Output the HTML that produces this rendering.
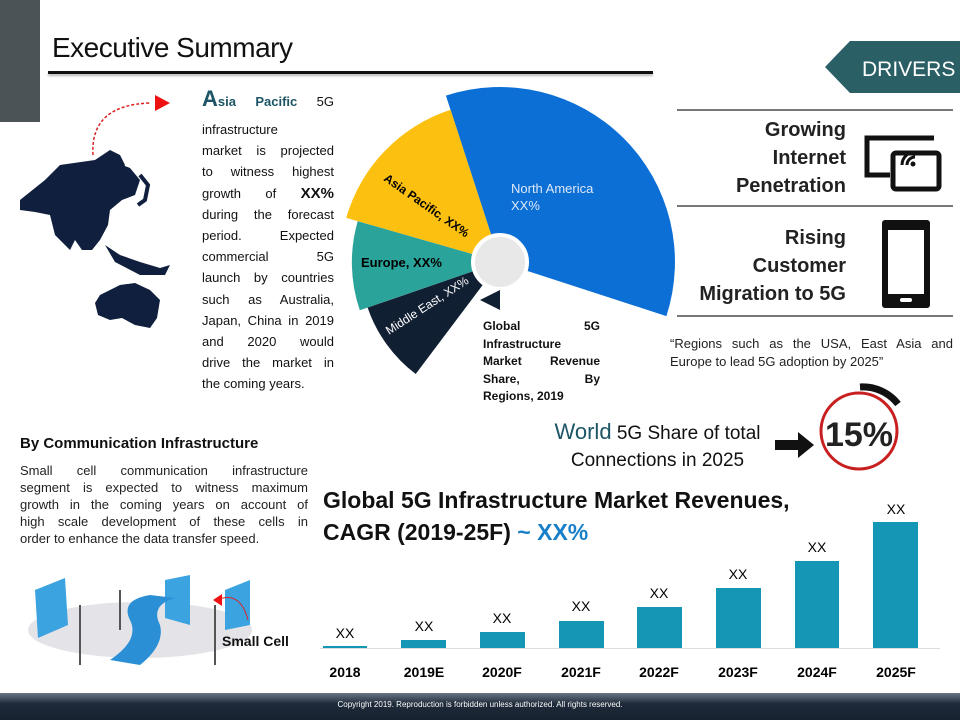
<!DOCTYPE html>
<html><head><meta charset="utf-8"><style>
*{margin:0;padding:0;box-sizing:border-box}
body{width:960px;height:720px;position:relative;overflow:hidden;background:#fff;font-family:"Liberation Sans Narrow","Liberation Sans",sans-serif;color:#111}
.a{position:absolute}
.j{text-align:justify;text-align-last:justify}
</style></head><body>
<div class="a" style="left:0;top:0;width:40px;height:122px;background:#4a5356"></div>
<div class="a" style="left:52px;top:32px;font-size:28px;font-family:'Liberation Sans',sans-serif;letter-spacing:-0.5px">Executive Summary</div>
<div class="a" style="left:48px;top:71px;width:605px;height:3px;background:#111;box-shadow:0 2px 2px #bbb"></div>

<svg class="a" style="left:0;top:0" width="960" height="720">
 <!-- map -->
 <path d="M20 200 L45 180 L60 165 L95 160 L110 150 L120 155 L125 165 L118 180 L128 190 L122 200 L110 210 L108 225 L100 240 L92 250 L82 250 L75 240 L70 250 L65 245 L55 235 L50 215 L35 212 L20 210Z" fill="#0f1f3d"/>
 <path d="M110 160 L130 168 L140 180 L135 195 L122 200Z" fill="#0f1f3d"/>
 <path d="M105 245 L120 255 L140 262 L160 268 L170 265 L165 275 L140 275 L115 262Z" fill="#0f1f3d"/>
 <path d="M100 295 L120 285 L135 283 L150 290 L160 300 L157 318 L150 328 L135 325 L122 318 L110 320 L98 315 L95 303Z" fill="#0f1f3d"/>
 <path d="M140 175 L148 185 L145 200 L138 205" stroke="#0f1f3d" stroke-width="4" fill="none"/>
 <path d="M93 155 Q90 105 150 103" stroke="#d22" stroke-width="1.5" stroke-dasharray="3,2" fill="none"/>
 <polygon points="155,95 170,103 155,111" fill="#e11"/>
 <!-- pie -->
 <g transform="translate(500,262)">
  <path d="M0 0 L-54.1 -166.4 A175 175 0 0 1 166.4 54.1Z" fill="#0b6fd6"/>
  <path d="M0 0 L-153.8 -44.1 A160 160 0 0 1 -49.4 -152.2Z" fill="#fcc010"/>
  <path d="M0 0 L-140.2 48.2 A148 148 0 0 1 -142.3 -40.8Z" fill="#2aa39a"/>
  <path d="M0 0 L-84.3 112 A140 140 0 0 1 -132.4 45.6Z" fill="#111f33"/>
  <circle r="27" fill="#e8e8e8" stroke="#fff" stroke-width="4"/>
  <polygon points="0,28 0,48 -20,38" fill="#111f33"/>
 </g>
 <text x="511" y="193" fill="#dfe9f7" font-size="13" font-family="Liberation Sans Narrow,Liberation Sans,sans-serif">North America</text>
 <text x="511" y="210" fill="#dfe9f7" font-size="13" font-family="Liberation Sans Narrow,Liberation Sans,sans-serif">XX%</text>
 <text transform="translate(383,180) rotate(35)" font-size="12" font-weight="bold" font-family="Liberation Sans Narrow,Liberation Sans,sans-serif">Asia Pacific, XX%</text>
 <text x="361" y="267" font-size="13" font-weight="bold" font-family="Liberation Sans Narrow,Liberation Sans,sans-serif">Europe, XX%</text>
 <text transform="translate(389,335) rotate(-33)" fill="#fff" font-size="12" font-family="Liberation Sans Narrow,Liberation Sans,sans-serif">Middle East, XX%</text>
 <!-- drivers -->
 <polygon points="825,67 850,41 960,41 960,93 850,93" fill="#2a5f66"/>
 <text x="862" y="76" fill="#fff" font-size="21" font-family="Liberation Sans,sans-serif">DRIVERS</text>
 <rect x="677" y="109" width="276" height="2" fill="#777"/>
 <rect x="677" y="205" width="276" height="2" fill="#777"/>
 <rect x="677" y="315" width="276" height="2" fill="#777"/>
 <path d="M934 138 L867 138 L867 175 L890 175" stroke="#111" stroke-width="5" fill="none"/>
 <rect x="893" y="153" width="46" height="36" rx="3" stroke="#111" stroke-width="5" fill="#fff"/>
 <path d="M907 165 a8 8 0 0 1 8 -8 M902 165 a13 13 0 0 1 13 -13" stroke="#111" stroke-width="3" fill="none"/>
 <circle cx="913" cy="164" r="2.5" fill="#111"/>
 <rect x="882" y="220" width="48" height="88" rx="3" fill="#111"/>
 <rect x="888" y="230" width="36" height="64" fill="#fff"/>
 <rect x="900" y="298" width="12" height="4" rx="2" fill="#fff"/>
 <!-- 15% -->
 <circle cx="859" cy="431" r="38" stroke="#c82020" stroke-width="3" fill="none"/>
 <path d="M860 387 A45 45 0 0 1 898 404" stroke="#111" stroke-width="7" fill="none"/>
 <text x="859" y="446" text-anchor="middle" font-size="34" font-weight="bold" font-family="Liberation Sans Narrow,Liberation Sans,sans-serif" fill="#222">15%</text>
 <rect x="775" y="440" width="25" height="10" fill="#111"/>
 <polygon points="798,432 814,445 798,458" fill="#111"/>
 <!-- bars -->
 <rect x="320" y="648" width="620" height="1" fill="#ddd"/>
 <g fill="#1497b5">
  <rect x="323" y="646" width="44" height="2"/>
  <rect x="401" y="640" width="45" height="8"/>
  <rect x="480" y="632" width="45" height="16"/>
  <rect x="559" y="621" width="45" height="27"/>
  <rect x="637" y="607" width="45" height="41"/>
  <rect x="716" y="588" width="45" height="60"/>
  <rect x="795" y="561" width="44" height="87"/>
  <rect x="873" y="522" width="45" height="126"/>
 </g>
 <g font-size="14" text-anchor="middle" font-family="Liberation Sans Narrow,Liberation Sans,sans-serif">
  <text x="345" y="638">XX</text><text x="424" y="631">XX</text><text x="502" y="623">XX</text><text x="581" y="611">XX</text><text x="659" y="598">XX</text><text x="738" y="579">XX</text><text x="817" y="552">XX</text><text x="896" y="514">XX</text>
 </g>
 <g font-size="14" font-weight="bold" text-anchor="middle" font-family="Liberation Sans Narrow,Liberation Sans,sans-serif">
  <text x="345" y="677">2018</text><text x="424" y="677">2019E</text><text x="502" y="677">2020F</text><text x="581" y="677">2021F</text><text x="659" y="677">2022F</text><text x="738" y="677">2023F</text><text x="817" y="677">2024F</text><text x="896" y="677">2025F</text>
 </g>
 <!-- small cell illustration -->
 <ellipse cx="140" cy="630" rx="112" ry="28" fill="#e4e4e8"/>
 <path d="M35 590 L65 578 L68 625 L38 638Z" fill="#3aa3e0"/>
 <path d="M165 580 L190 575 L190 625 L165 618Z" fill="#3aa3e0"/>
 <path d="M225 590 L250 580 L250 625 L225 630Z" fill="#3aa3e0"/>
 <path d="M110 660 Q140 640 130 620 Q120 600 150 595 L175 598 Q150 605 160 625 Q165 645 140 665Z" fill="#2b8fd6"/>
 <line x1="120" y1="590" x2="120" y2="630" stroke="#555" stroke-width="2"/>
 <line x1="80" y1="605" x2="80" y2="665" stroke="#555" stroke-width="2"/>
 <line x1="215" y1="605" x2="215" y2="665" stroke="#555" stroke-width="2"/>
 <path d="M217 600 Q240 590 248 620" stroke="#d22" fill="none"/>
 <polygon points="213,600 222,594 222,606" fill="#e11"/>
</svg>

<div class="a j" style="left:202px;top:88px;width:132px;font-size:13px;line-height:21px">
<span style="font-size:22px;font-weight:bold;color:#1d5566">A</span><span style="font-weight:bold;color:#1d5566">sia Pacific</span> 5G</div>
<div class="a" style="left:202px;top:119px;width:132px;font-size:13px;line-height:21.2px;text-align:justify">infrastructure<br>
<span style="display:block;text-align:justify;text-align-last:justify">market is projected</span>
<span style="display:block;text-align-last:justify">to witness highest</span>
<span style="display:block;text-align-last:justify">growth of <b style="font-size:15px">XX%</b></span>
<span style="display:block;text-align-last:justify">during the forecast</span>
<span style="display:block;text-align-last:justify">period. Expected</span>
<span style="display:block;text-align-last:justify">commercial 5G</span>
<span style="display:block;text-align-last:justify">launch by countries</span>
<span style="display:block;text-align-last:justify">such as Australia,</span>
<span style="display:block;text-align-last:justify">Japan, China in 2019</span>
<span style="display:block;text-align-last:justify">and 2020 would</span>
<span style="display:block;text-align-last:justify">drive the market in</span>
<span style="display:block">the coming years.</span></div>

<div class="a" style="left:483px;top:318px;width:117px;font-size:12px;line-height:17.5px;font-weight:bold">
<span style="display:block;text-align-last:justify">Global 5G</span>
<span style="display:block">Infrastructure</span>
<span style="display:block;text-align-last:justify">Market Revenue</span>
<span style="display:block;text-align-last:justify">Share, By</span>
<span style="display:block">Regions, 2019</span></div>

<div class="a" style="left:676px;top:116px;width:170px;text-align:right;font-size:20px;font-weight:bold;line-height:28px;color:#222">Growing<br>Internet<br>Penetration</div>
<div class="a" style="left:656px;top:224px;width:190px;text-align:right;font-size:20px;font-weight:bold;line-height:28px;color:#222">Rising<br>Customer<br>Migration to 5G</div>
<div class="a" style="left:670px;top:335px;width:283px;font-size:13px;line-height:18px;color:#222">
<span style="display:block;text-align-last:justify">“Regions such as the USA, East Asia and</span>Europe to lead 5G adoption by 2025”</div>
<div class="a" style="left:540px;top:418px;width:235px;text-align:center;font-size:19px;line-height:27px;color:#111"><span style="color:#1d5566;font-size:22px">World</span> 5G Share of total<br>Connections in 2025</div>

<div class="a" style="left:20px;top:435px;font-size:15px;font-weight:bold">By Communication Infrastructure</div>
<div class="a" style="left:20px;top:462px;width:288px;font-size:13px;line-height:17px;color:#222">
<span style="display:block;text-align-last:justify">Small cell communication infrastructure</span>
<span style="display:block;text-align-last:justify">segment is expected to witness maximum</span>
<span style="display:block;text-align-last:justify">growth in the coming years on account of</span>
<span style="display:block;text-align-last:justify">high scale development of these cells in</span>
order to enhance the data transfer speed.</div>
<div class="a" style="left:222px;top:633px;font-size:14px;font-weight:bold">Small Cell</div>

<div class="a" style="left:323px;top:484px;font-size:23px;font-weight:bold;line-height:32px;color:#111">Global 5G Infrastructure Market Revenues,<br>CAGR (2019-25F) <span style="color:#1a7fc9">~ XX%</span></div>

<div class="a" style="left:0;top:693px;width:960px;height:27px;background:linear-gradient(#6b7785,#1e2a3a 40%,#18222f);color:#fff;font-size:8px;text-align:center;line-height:24px">Copyright 2019. Reproduction is forbidden unless authorized. All rights reserved.</div>
</body></html>
